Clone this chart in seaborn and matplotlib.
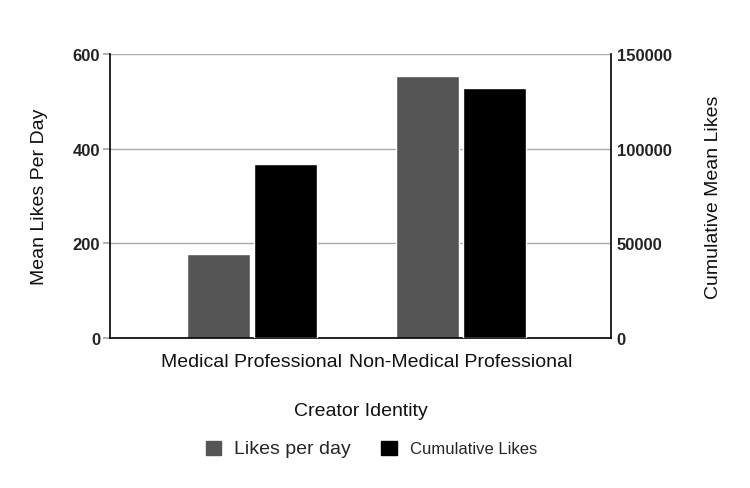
import matplotlib
matplotlib.use("Agg")
import matplotlib.pyplot as plt
import matplotlib.patches as mpatches
import numpy as np
import pandas as pd
import seaborn as sns

categories = ["Medical Professional", "Non-Medical Professional"]
likes_per_day = [177.5, 554]
cumulative_likes = [92000, 132000]
series = ["Likes per day", "Cumulative Likes"]
colors = ["#555555", "#000000"]

# one long table per axis; the other series is left empty so bars still dodge
df_left = pd.DataFrame({
    "identity": categories * 2,
    "value": likes_per_day + [np.nan] * len(categories),
    "series": [series[0]] * 2 + [series[1]] * 2,
})
df_right = pd.DataFrame({
    "identity": categories * 2,
    "value": [np.nan] * len(categories) + cumulative_likes,
    "series": [series[0]] * 2 + [series[1]] * 2,
})

sns.set_theme(style="white")
plt.rcParams["font.family"] = ["Liberation Sans", "DejaVu Sans"]

fig = plt.figure(figsize=(7.5, 4.89), dpi=100)
ax = fig.add_axes([0.1467, 0.3067, 0.668, 0.5808])
ax2 = ax.twinx()

pal = dict(zip(series, colors))
sns.barplot(data=df_left, x="identity", y="value", hue="series", hue_order=series,
            palette=pal, width=0.64, gap=0.05, legend=False, ax=ax, saturation=1)
sns.barplot(data=df_right, x="identity", y="value", hue="series", hue_order=series,
            palette=pal, width=0.64, gap=0.05, legend=False, ax=ax2, saturation=1)

ax.set_ylim(0, 600)
ax.set_yticks([0, 200, 400, 600])
ax2.set_ylim(0, 150000)
ax2.set_yticks([0, 50000, 100000, 150000])
ax.set_xlim(-0.679, 1.718)

ax.yaxis.grid(True, color="#aaaaaa", linewidth=1)
ax.set_axisbelow(True)
for a in (ax, ax2):
    for s in a.spines.values():
        s.set_visible(False)
        s.set_color("black")
        s.set_linewidth(1.2)
ax.spines["left"].set_visible(True)
ax.spines["bottom"].set_visible(True)
ax2.spines["right"].set_visible(True)

ax.tick_params(axis="y", length=5, color="#aaaaaa", labelsize=12, pad=2)
ax2.tick_params(axis="y", length=0, labelsize=12, pad=4)
ax.tick_params(axis="x", length=0, labelsize=14, pad=11)
for lab in ax.get_yticklabels() + ax2.get_yticklabels():
    lab.set_fontweight("bold")
    lab.set_color("#222222")
for lab in ax.get_xticklabels():
    lab.set_color("#111111")

ax.set_ylabel("Mean Likes Per Day", fontsize=14, labelpad=18, color="#111111")
ax2.set_ylabel("Cumulative Mean Likes", fontsize=14, labelpad=24, color="#111111")
ax.set_xlabel("Creator Identity", fontsize=14, labelpad=23, color="#111111")

handles = [mpatches.Patch(color=c, label=s) for s, c in zip(series, colors)]
leg = fig.legend(handles=handles, loc="center", bbox_to_anchor=(0.495, 0.08), ncol=2,
                 frameon=False, handlelength=1.0, handleheight=1.0, columnspacing=2.0,
                 handletextpad=0.85)
leg.get_texts()[0].set_fontsize(14)
leg.get_texts()[1].set_fontsize(12)

fig.savefig("out.png", dpi=100)
